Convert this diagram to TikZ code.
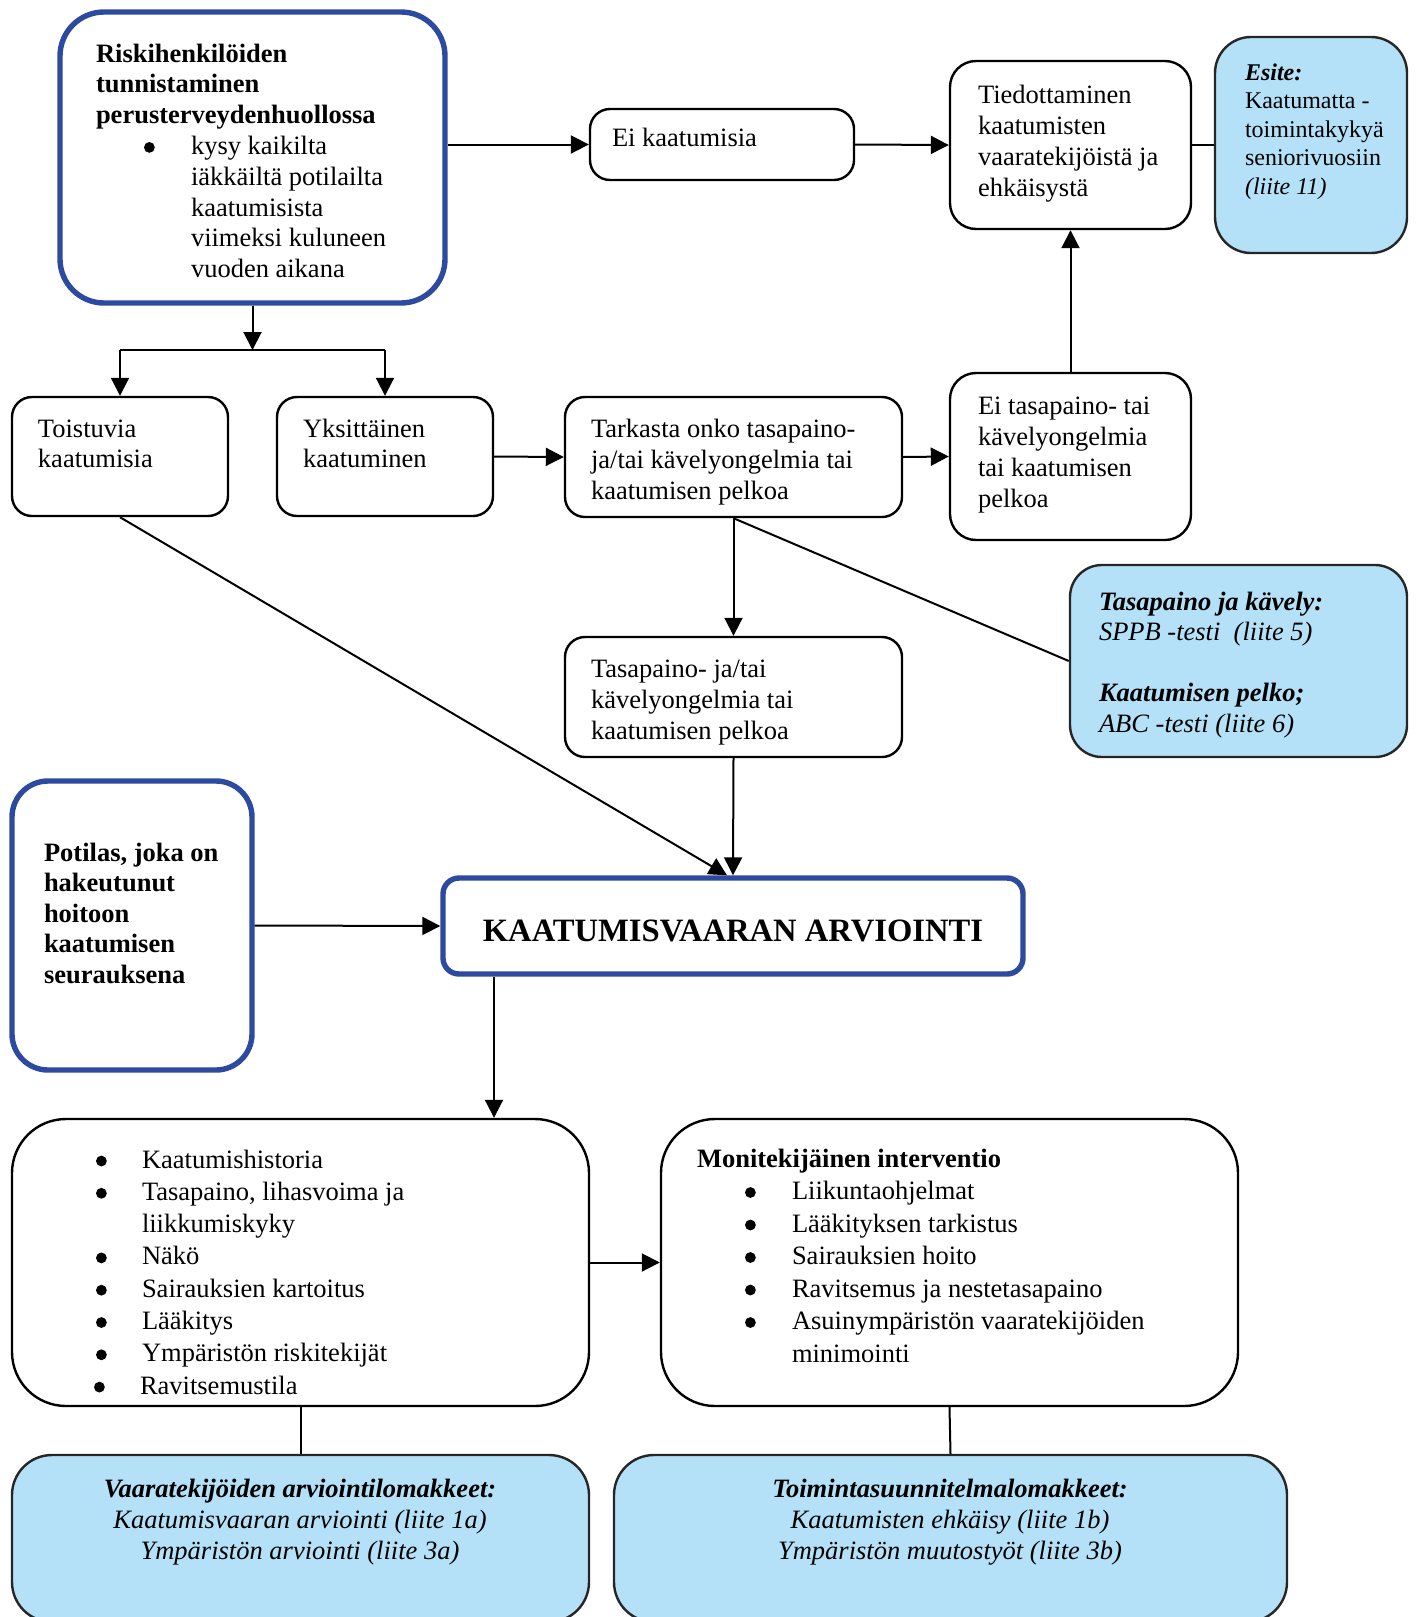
\documentclass[tikz,border=0pt]{standalone}
\usepackage{fontspec}
\setmainfont{Liberation Serif}
\usetikzlibrary{arrows.meta,fit,calc}

\definecolor{frameblue}{RGB}{44,74,160}
\definecolor{noteblue}{RGB}{180,225,247}

% strut that fixes the top of the first text line
\newcommand\fst{\rule{0pt}{12pt}}
% round list bullet in a box of the given width
\newcommand\bul[1]{\makebox[#1][l]{\tikz[baseline=0pt]\fill (2.7pt,3.5pt) circle[radius=2.7pt];}}

\tikzset{
  flowbox/.style={draw=black, line width=1.2pt, inner sep=0pt, rounded corners=#1},
  flowbox/.default=10pt,
  keybox/.style={draw=frameblue, line width=2.7pt, fill=white, inner sep=0pt, rounded corners=#1},
  keybox/.default=20pt,
  notebox/.style={draw=black!85, line width=1.2pt, fill=noteblue, inner sep=0pt, rounded corners=#1},
  notebox/.default=18pt,
  conn/.style={line width=1pt},
  arr/.style={conn, -{Triangle[length=9pt,width=9pt]}},
  txt/.style={anchor=north west, inner sep=0pt, outer sep=0pt, align=left, yshift=12pt,
    font=\fontsize{13.25}{#1}\selectfont},
  txt/.default=15.5pt,
  ctxt/.style={anchor=north, inner sep=0pt, outer sep=0pt, align=center, yshift=12pt,
    font=\fontsize{13.25}{#1}\selectfont},
  ctxt/.default=15.5pt,
}

\begin{document}
\begin{tikzpicture}[x=0.5pt,y=-0.5pt]
\useasboundingbox (0,0) rectangle (1416,1617);
\clip (0,0) rectangle (1416,1617);

% ---- boxes ----
\node[keybox=22pt, fit={(60,12) (445,303)}] (risk) {};
\node[flowbox=10pt, fit={(590,109) (854,180)}] (eikaat) {};
\node[flowbox=13pt, fit={(950,61) (1191,229)}] (tied) {};
\node[notebox=18pt, fit={(1215,37) (1407,253)}] (esite) {};
\node[flowbox=10pt, fit={(12,397) (228,516)}] (toist) {};
\node[flowbox=10pt, fit={(277,397) (493,516)}] (yksit) {};
\node[flowbox=10pt, fit={(565,397) (902,517)}] (tark) {};
\node[flowbox=13pt, fit={(950,373) (1191,540)}] (eitasa) {};
\node[notebox=16pt, fit={(1070,565) (1407,757)}] (tasakav) {};
\node[flowbox=10pt, fit={(565,637) (902,757)}] (tasaong) {};
\node[keybox=18pt, fit={(12,781) (252,1070)}] (potilas) {};
\node[keybox=8pt, fit={(443,878) (1023,974)}] (kaat) {};
\node[flowbox=27pt, fit={(12,1119) (589,1406)}] (listL) {};
\node[flowbox=27pt, fit={(661,1119) (1238,1406)}] (listR) {};
\node[notebox=20pt, fit={(12,1455) (589,1622)}] (formsL) {};
\node[notebox=20pt, fit={(614,1455) (1287,1622)}] (formsR) {};

% ---- texts ----
\node[txt=15.4pt] (risk-t) at (96,62) {\fst\textbf{Riskihenkilöiden}\\
  \textbf{tunnistaminen}\\
  \textbf{perusterveydenhuollossa}\\
  \hspace*{24pt}\bul{23.5pt}kysy kaikilta\\
  \hspace*{47.5pt}iäkkäiltä potilailta\\
  \hspace*{47.5pt}kaatumisista\\
  \hspace*{47.5pt}viimeksi kuluneen\\
  \hspace*{47.5pt}vuoden aikana};
\node[txt] (eikaat-t) at (612,146) {\fst Ei kaatumisia};
\node[txt] (tied-t) at (978,103) {\fst Tiedottaminen\\ kaatumisten\\ vaaratekijöistä ja\\ ehkäisystä};
\node[txt=14.3pt, font=\fontsize{12}{14.3}\selectfont] (esite-t) at (1245,80) {\fst\textbf{\textit{Esite:}}\\ Kaatumatta -\\ toimintakykyä\\ seniorivuosiin\\ \textit{(liite 11)}};
\node[txt=15pt] (toist-t) at (38,437) {\fst Toistuvia\\ kaatumisia};
\node[txt=15pt] (yksit-t) at (303,437) {\fst Yksittäinen\\ kaatuminen};
\node[txt] (tark-t) at (591,437) {\fst Tarkasta onko tasapaino-\\ ja/tai kävelyongelmia tai\\ kaatumisen pelkoa};
\node[txt] (eitasa-t) at (978,414) {\fst Ei tasapaino- tai\\ kävelyongelmia\\ tai kaatumisen\\ pelkoa};
\node[txt=15.3pt] (tasakav-t) at (1099,610) {\fst\textbf{\textit{Tasapaino ja kävely:}}\\
  \textit{SPPB -testi\ \ (liite 5)}\\[15.3pt]
  \textbf{\textit{Kaatumisen pelko;}}\\
  \textit{ABC -testi (liite 6)}};
\node[txt] (tasaong-t) at (591,677) {\fst Tasapaino- ja/tai\\ kävelyongelmia tai\\ kaatumisen pelkoa};
\node[txt=15.25pt] (potilas-t) at (44,861) {\fst\textbf{Potilas, joka on}\\ \textbf{hakeutunut}\\ \textbf{hoitoon}\\ \textbf{kaatumisen}\\ \textbf{seurauksena}};
\node[anchor=base, inner sep=0pt, font=\fontsize{16.3}{20}\selectfont\bfseries] (kaat-t) at (733,941) {KAATUMISVAARAN ARVIOINTI};
\node[txt=16.15pt] (listL-t) at (96,1168) {\fst\bul{23pt}Kaatumishistoria\\
  \bul{23pt}Tasapaino, lihasvoima ja\\
  \hspace*{23pt}liikkumiskyky\\
  \bul{23pt}Näkö\\
  \bul{23pt}Sairauksien kartoitus\\
  \bul{23pt}Lääkitys\\
  \bul{23pt}Ympäristön riskitekijät\\
  \hspace*{-1pt}\bul{23pt}Ravitsemustila};
\node[txt=16.25pt] (listR-t) at (697,1167) {\fst\textbf{Monitekijäinen interventio}\\
  \hspace*{24pt}\bul{23.5pt}Liikuntaohjelmat\\
  \hspace*{24pt}\bul{23.5pt}Lääkityksen tarkistus\\
  \hspace*{24pt}\bul{23.5pt}Sairauksien hoito\\
  \hspace*{24pt}\bul{23.5pt}Ravitsemus ja nestetasapaino\\
  \hspace*{24pt}\bul{23.5pt}Asuinympäristön vaaratekijöiden\\
  \hspace*{47.5pt}minimointi};
\node[ctxt] (formsL-t) at (300,1497) {\fst\textbf{\textit{Vaaratekijöiden arviointilomakkeet:}}\\
  \textit{Kaatumisvaaran arviointi (liite 1a)}\\
  \textit{Ympäristön arviointi (liite 3a)}};
\node[ctxt] (formsR-t) at (950,1497) {\fst\textbf{\textit{Toimintasuunnitelmalomakkeet:}}\\
  \textit{Kaatumisten ehkäisy (liite 1b)}\\
  \textit{Ympäristön muutostyöt (liite 3b)}};

% ---- connectors ----
\coordinate (split) at (252.5,350);
\coordinate (drop) at (494,0);
\draw[arr] (risk.east |- eikaat.west) -- (eikaat.west);
\draw[arr] (eikaat.east) -- (tied.west);
\draw[conn] (tied.east) -- (esite.west);
\draw[arr] (eitasa.north) -- (tied.south);
\draw[arr] (risk.south) -- (split);
\draw[conn] (toist.north |- split) -- (yksit.north |- split);
\draw[arr] (toist.north |- split) -- (toist.north);
\draw[arr] (yksit.north |- split) -- (yksit.north);
\draw[arr] (yksit.east) -- (tark.west);
\draw[arr] (tark.east) -- (eitasa.west);
\draw[arr] (tark.south) -- (tasaong.north);
\draw[conn] (tark.south) -- (tasakav.west);
\draw[arr] (toist.south) -- ([xshift=-3pt]kaat.north);
\draw[arr] (tasaong.south) -- (kaat.north);
\draw[arr] (potilas.east) -- (kaat.west);
\draw[arr] (kaat.south -| drop) -- (listL.north -| drop);
\draw[arr] (listL.east) -- (listR.west);
\draw[conn] (listL.south) -- (formsL.north);
\draw[conn] (listR.south) -- (formsR.north);
\end{tikzpicture}
\end{document}
